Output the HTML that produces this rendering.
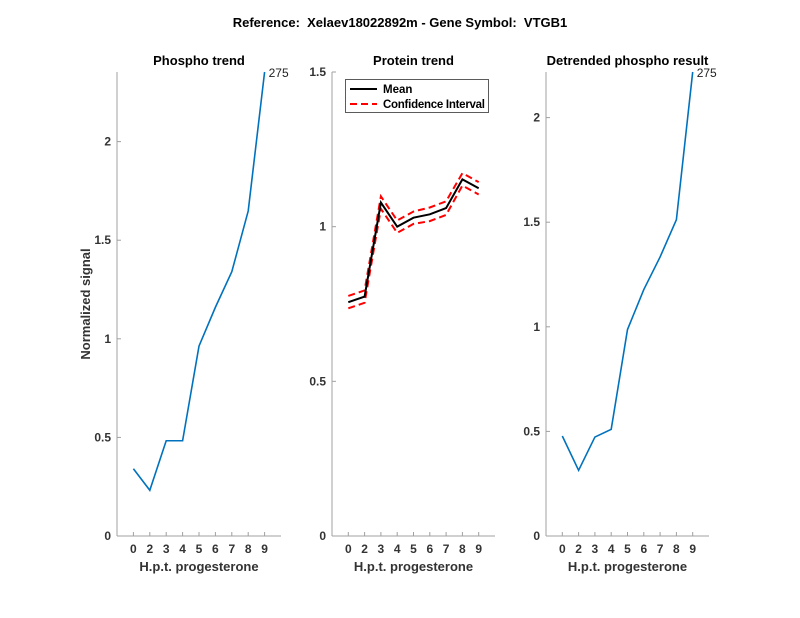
<!DOCTYPE html>
<html><head><meta charset="utf-8"><style>
body{margin:0;background:#fff}
svg{font-family:"Liberation Sans",Arial,sans-serif;display:block}
text{white-space:pre}
</style></head><body>
<svg id="c" width="800" height="618"></svg>
<script>
const cats=["0","2","3","4","5","6","7","8","9"];
const phospho=[0.341,0.232,0.483,0.483,0.963,1.16,1.34,1.648,2.353];
const proteinMean=[0.756,0.774,1.078,1.0,1.029,1.04,1.06,1.153,1.124];
const proteinUpper=[0.776,0.794,1.098,1.02,1.049,1.062,1.082,1.173,1.144];
const proteinLower=[0.736,0.754,1.058,0.98,1.009,1.018,1.038,1.133,1.104];
const detrended=[0.478,0.314,0.473,0.51,0.987,1.178,1.334,1.512,2.218];
const yt1=[0,0.5,1,1.5,2], yt2=[0,0.5,1,1.5], yt3=[0,0.5,1,1.5,2];
const label="275";
const NS="http://www.w3.org/2000/svg";
const svg=document.getElementById('c');
function el(t,a,p){const e=document.createElementNS(NS,t);for(const k in a)e.setAttribute(k,a[k]);(p||svg).appendChild(e);return e;}
function txt(s,a,p){const e=el('text',a,p);e.textContent=s;return e;}
const title=txt("Reference:  Xelaev18022892m - Gene Symbol:  VTGB1",{x:400,y:27,'text-anchor':'middle','font-size':13,'font-weight':'bold',fill:'#000'});


function panel(name,L,R,ymax,yt,ttl){
  const g=el('g',{});
  
  
  const B=536,T=72;
  const xs=i=>L+(i+1)*(R-L)/10;
  const ys=v=>B-v/ymax*(B-T);
  el('line',{x1:L,y1:B,x2:R,y2:B,stroke:'#a0a0a0','stroke-width':1},g);
  el('line',{x1:L,y1:B,x2:L,y2:T,stroke:'#a0a0a0','stroke-width':1},g);
  cats.forEach((c,i)=>{
    el('line',{x1:xs(i),y1:B,x2:xs(i),y2:B-4,stroke:'#a0a0a0'},g);
    const t=txt(c,{x:xs(i),y:B+17,'text-anchor':'middle','font-size':12,'font-weight':'bold',fill:'#333'},g);
    
    
  });
  yt.forEach(v=>{
    el('line',{x1:L,y1:ys(v),x2:L+4,y2:ys(v),stroke:'#a0a0a0'},g);
    const t=txt(String(v),{x:L-6,y:ys(v)+4,'text-anchor':'end','font-size':12,'font-weight':'bold',fill:'#333'},g);
    
    
  });
  const tt=txt(ttl,{x:(L+R)/2,y:65,'text-anchor':'middle','font-size':13,'font-weight':'bold',fill:'#000'},g);
  
  
  const xl=txt("H.p.t. progesterone",{x:(L+R)/2,y:571,'text-anchor':'middle','font-size':13,'font-weight':'bold',fill:'#333'},g);
  
  
  return {g,xs,ys};
}
function line(p,arr,attrs,nm){
  const l=el('polyline',Object.assign({points:arr.map((v,i)=>p.xs(i)+','+p.ys(v)).join(' '),fill:'none'},attrs),p.g);
  
  
  return l;
}
const p1=panel('phospho-panel',117,281,2.353,yt1,'Phospho trend');
line(p1,phospho,{stroke:'#0072bd','stroke-width':1.6},'phospho-line');
const a1=txt(label,{x:p1.xs(8)+4,y:p1.ys(phospho[8])+5,'font-size':12,fill:'#222'},p1.g);


const yl=txt("Normalized signal",{x:0,y:0,transform:'translate(90,304) rotate(-90)','text-anchor':'middle','font-size':13,'font-weight':'bold',fill:'#333'});


const p2=panel('protein-panel',332,495,1.5,yt2,'Protein trend');
line(p2,proteinUpper,{stroke:'#ff0000','stroke-width':2,'stroke-dasharray':'7,4'},'ci-upper-line');
line(p2,proteinLower,{stroke:'#ff0000','stroke-width':2,'stroke-dasharray':'7,4'},'ci-lower-line');
line(p2,proteinMean,{stroke:'#000','stroke-width':2},'mean-line');
const lg=el('g',{},p2.g);


el('rect',{x:345.5,y:79.5,width:143,height:33,fill:'#fff',stroke:'#333','stroke-width':0.8},lg);
el('line',{x1:350,y1:89,x2:377,y2:89,stroke:'#000','stroke-width':2},lg);
txt("Mean",{x:383,y:93,'font-size':11.5,'font-weight':'bold',fill:'#000'},lg);
el('line',{x1:350,y1:104,x2:377,y2:104,stroke:'#f00','stroke-width':2,'stroke-dasharray':'7,4'},lg);
txt("Confidence Interval",{x:383,y:108,'font-size':11.5,'font-weight':'bold',fill:'#000',textLength:102},lg);
const p3=panel('detrended-panel',546,709,2.218,yt3,'Detrended phospho result');
line(p3,detrended,{stroke:'#0072bd','stroke-width':1.6},'detrended-line');
const a3=txt(label,{x:p3.xs(8)+4,y:p3.ys(detrended[8])+5,'font-size':12,fill:'#222'},p3.g);


</script>
</body></html>
